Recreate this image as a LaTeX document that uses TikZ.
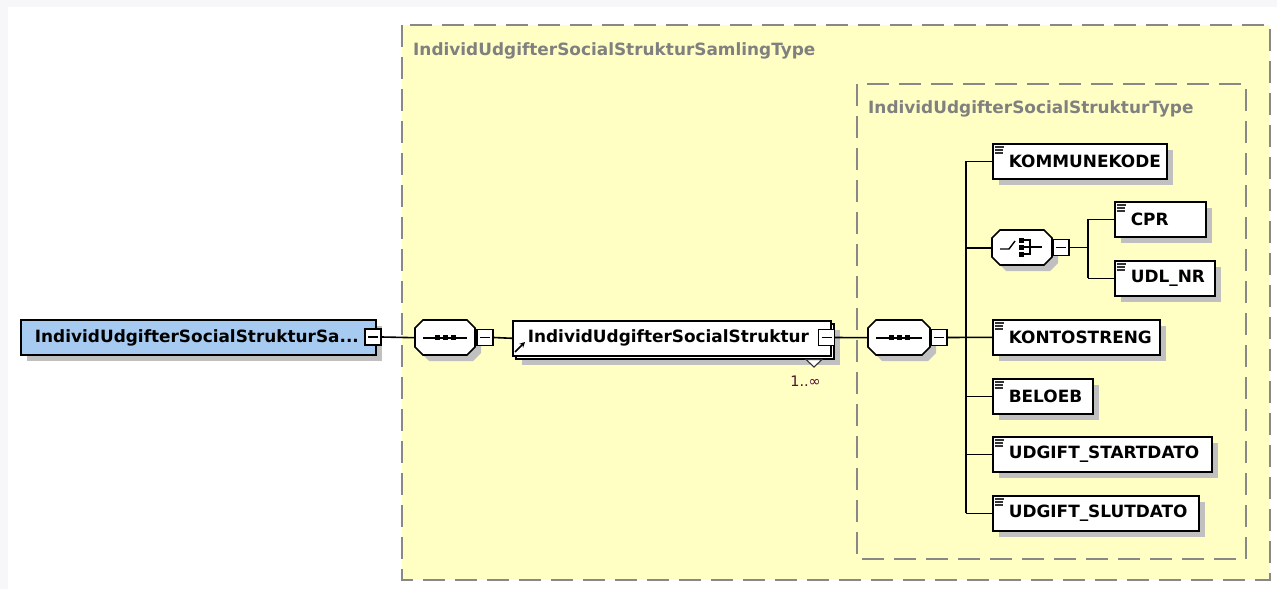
\documentclass[tikz,border=0pt]{standalone}
\usepackage{fontspec}
\setmainfont{DejaVu Sans}
\usetikzlibrary{shadows,calc,arrows.meta}
\definecolor{boxyellow}{RGB}{255,255,196}
\definecolor{rootblue}{RGB}{166,202,240}
\definecolor{dashgray}{RGB}{136,136,136}
\definecolor{shadowgray}{RGB}{192,192,192}
\definecolor{stripgray}{RGB}{247,247,250}
\definecolor{occcolor}{RGB}{80,16,48}
\newcommand\lblfont{\fontsize{16.9}{19}\selectfont\bfseries}
\newcommand\octshape[4]{(#1+8,#2) -- (#1+#3-8,#2) -- (#1+#3,#2+8) -- (#1+#3,#2+#4-8) -- (#1+#3-8,#2+#4) -- (#1+8,#2+#4) -- (#1,#2+#4-8) -- (#1,#2+8) -- cycle}
\tikzset{
  shadowed/.style={drop shadow={shadow xshift=6pt, shadow yshift=-6pt, fill=shadowgray, opacity=1}},
  elem/.style={draw=black, line width=1.6pt, fill=white, minimum height=35pt, inner sep=0pt, anchor=north west, font=\lblfont},
  minusbox/.style={draw=black, line width=1.4pt, fill=white, minimum size=16pt, inner sep=0pt,
    path picture={\draw[line width=1.4pt] ([xshift=3pt]path picture bounding box.west) -- ([xshift=-3pt]path picture bounding box.east);}},
  conn/.style={draw=black, line width=1.6pt},
  iconline/.style={draw=black!80, line width=1.2pt},
  dashbox/.style={draw=dashgray, line width=1.8pt, dash pattern=on 22pt off 10pt},
  graytitle/.style={anchor=west, inner sep=0pt, text=black!50, font=\lblfont},
  octnode/.style={inner sep=0pt, draw=none}
}
\newcommand\elembox[5]{%
  \node[elem, shadowed, minimum width=#4pt] (#1) at (#2,#3) {\makebox[#4pt][l]{\hspace{16pt}#5}};
  \draw[iconline] (#2+3,#3+4) -- ++(9,0);
  \draw[iconline] (#2+3,#3+7) -- ++(8,0);
  \draw[iconline] (#2+3,#3+10) -- ++(8,0);
}
\newcommand\octo[5]{% name, left, top, width, height
  \fill[shadowgray, shift={(6,6)}] \octshape{#2}{#3}{#4}{#5};
  \filldraw[fill=white, draw=black, line width=1.6pt] \octshape{#2}{#3}{#4}{#5};
  \node[octnode, minimum width=#4pt, minimum height=#5pt, anchor=north west] (#1) at (#2,#3) {};
}
\newcommand\seqicon[1]{%
  \draw[line width=1.6pt] ([xshift=8pt]#1.west) -- ([xshift=-8pt]#1.east);
  \foreach \dx in {-8,0,8} \fill ([xshift=\dx pt]#1.center) +(-2.6,-2.6) rectangle +(2.6,2.6);
}
\begin{document}
\begin{tikzpicture}[x=1pt,y=-1pt]
\useasboundingbox (0,0) rectangle (1277,589);
\fill[white] (0,0) rectangle (1277,589);
\fill[stripgray] (0,0) rectangle (1277,7);
\fill[stripgray] (0,0) rectangle (8,589);

% outer and inner type boxes
\path[dashbox, fill=boxyellow] (402,25) rectangle (1270,580);
\path[dashbox] (857,84) rectangle (1246,559);
\node[graytitle] (t1) at (413,51) {IndividUdgifterSocialStrukturSamlingType};
\node[graytitle] (t2) at (868,109) {IndividUdgifterSocialStrukturType};

% root element
\node[elem, shadowed, fill=rootblue, line width=1.8pt, minimum width=355pt] (root) at (20,319)
  {\makebox[355pt][l]{\hspace{14pt}IndividUdgifterSocialStrukturSa...}};
\node[minusbox] (rootm) at (373,337) {};

% first sequence
\octo{seq1}{415}{320}{60}{35}
\seqicon{seq1}
\node[minusbox] (seq1m) at (485,337.5) {};

% multi element
\fill[shadowgray] (522,330) rectangle (840,365);
\filldraw[fill=white, draw=black, line width=1.6pt] (516,324) rectangle (834,359);
\node[elem, minimum width=318pt] (struk) at (512,320) {\makebox[318pt][l]{\hspace{15pt}IndividUdgifterSocialStruktur}};
\draw[line width=1.5pt, -{Stealth[length=5.5pt,width=5.5pt]}] (515,352) -- (525,342);
\node[minusbox] (strukm) at (826.5,337.5) {};
\filldraw[fill=white, draw=black!80, line width=1.1pt] (806,359.5) -- (822,359.5) -- (814,367) -- cycle;
\node[anchor=east, inner sep=0pt, text=occcolor, font=\fontsize{14.5}{16}\selectfont] (occ) at (821,381) {1..∞};

% second sequence
\octo{seq2}{868}{320}{62}{35}
\seqicon{seq2}
\node[minusbox] (seq2m) at (939,337.5) {};

% children
\elembox{kommune}{992}{143}{174}{KOMMUNEKODE}
\octo{choice}{992}{230}{60}{35}
\node[minusbox] (choicem) at (1061,247.5) {};
% choice icon
\draw[line width=1.4pt] (1000,249) -- (1009,249) -- (1015,241);
\foreach \yy in {240,247,254} \fill (1018.5,\yy-2.5) rectangle (1023.5,\yy+2.5);
\draw[line width=1.4pt] (1023,240) -- (1030,240) -- (1030,254) -- (1023,254);
\draw[line width=1.4pt] (1023,247) -- (1042,247);
\elembox{cpr}{1114}{201}{91}{CPR}
\elembox{udl}{1114}{260}{100}{UDL\_NR}
\elembox{konto}{992}{319}{167}{KONTOSTRENG}
\elembox{beloeb}{992}{378}{100}{BELOEB}
\elembox{start}{992}{436}{219}{UDGIFT\_STARTDATO}
\elembox{slut}{992}{495}{206}{UDGIFT\_SLUTDATO}

% connectors
\coordinate (trunk) at (966,337.5);
\coordinate (branch) at (1088,247.5);
\draw[conn] (rootm.east) -- (seq1.west);
\draw[conn] (seq1m.east) -- (struk.west);
\draw[conn] (strukm.east) -- (seq2.west);
\draw[conn] (seq2m.east) -- (konto.west);
\draw[conn] (kommune.west -| trunk) -- (slut.west -| trunk);
\foreach \n in {kommune,choice,beloeb,start,slut} \draw[conn] (\n.west -| trunk) -- (\n.west);
\draw[conn] (choicem.east) -- (branch);
\draw[conn] (cpr.west -| branch) -- (udl.west -| branch);
\draw[conn] (cpr.west -| branch) -- (cpr.west);
\draw[conn] (udl.west -| branch) -- (udl.west);
\end{tikzpicture}
\end{document}
